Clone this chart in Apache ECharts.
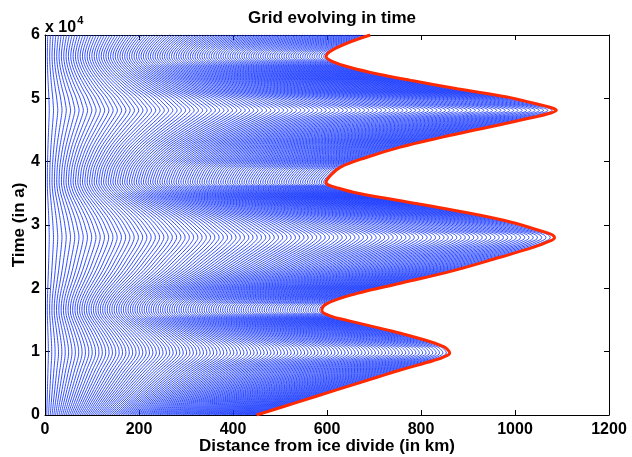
<!DOCTYPE html>
<html>
<head>
<meta charset="utf-8">
<script src="https://cdn.jsdelivr.net/npm/echarts@6/dist/echarts.min.js"></script>
<style>
html, body { margin: 0; padding: 0; background: #fff; }
#chart { width: 632px; height: 457px; }
</style>
</head>
<body>
<div id="chart"></div>
<script>
// time (a) and ice margin position (km)
var times = [0, 2000, 4000, 6000, 7100, 8600, 9200, 9800, 10300, 10800, 11800, 13400, 14900, 15700,
    16500, 17600, 19200, 20800, 22800, 24900, 26500, 27400, 28000, 28500, 29100, 30700, 32300, 33900,
    34900, 35800, 36750, 37700, 39100, 40700, 42300, 43800, 45400, 47000, 47600, 48100, 48600, 49100,
    50200, 51500, 52800, 53800, 54900, 55800, 56600, 58000, 60000];
var margin = [450, 536, 622, 708, 756, 827, 850, 861, 857, 848, 810, 730, 645, 605,
    589, 600, 664, 756, 869, 968, 1040, 1072, 1084, 1078, 1054, 978, 872, 750,
    674, 625, 598, 606, 628, 685, 756, 841, 940, 1040, 1072, 1088, 1074, 1047,
    983, 877, 780, 710, 648, 612, 598, 621, 692];
// grid nodes are fixed fractions of the margin position
var nIntervals = 120;
var xTicks = [0, 200, 400, 600, 800, 1000, 1200];
var yTicks = [0, 1, 2, 3, 4, 5, 6];

var font = '"Liberation Sans", Arial, Helvetica, sans-serif';
var chart = echarts.init(document.getElementById('chart'));

var series = [];
for (var i = 1; i <= nIntervals; i++) {
    var frac = i / nIntervals;
    series.push({
        type: 'line',
        smooth: 0.4,
        symbol: 'none',
        silent: true,
        lineStyle: { color: '#1a3aff', width: 0.9 },
        data: times.map(function(t, k) { return [margin[k] * frac, t]; })
    });
}
series.push({
    type: 'line',
    smooth: 0.4,
    symbol: 'none',
    z: 5,
    lineStyle: { color: '#ff2a00', width: 3 },
    data: times.map(function(t, k) { return [margin[k], t]; })
});

var axisCommon = {
    axisLine: { show: true, onZero: false, lineStyle: { color: '#000', width: 1 } },
    axisTick: { show: true, inside: true, length: 5, lineStyle: { color: '#000' } },
    splitLine: { show: false }
};

var option = {
    animation: false,
    backgroundColor: '#fff',
    title: {
        text: 'Grid evolving in time',
        left: 327, top: 5, textAlign: 'center',
        textStyle: { fontFamily: font, fontWeight: 'bold', fontSize: 17, color: '#000' }
    },
    grid: { left: 45, right: 23, top: 35, bottom: 42, containLabel: false, outerBoundsMode: 'none' },
    xAxis: [
        Object.assign({
            type: 'value', min: 0, max: 1200, interval: 200,
            name: 'Distance from ice divide (in km)', nameLocation: 'middle', nameGap: 23,
            nameMoveOverlap: false,
            nameTextStyle: { fontFamily: font, fontWeight: 'bold', fontSize: 17, color: '#000' },
            axisLabel: {
                margin: 7, fontFamily: font, fontWeight: 'bold', fontSize: 16, color: '#000',
                formatter: function(v) { return xTicks.indexOf(v) >= 0 ? String(v) : ''; }
            }
        }, axisCommon),
        Object.assign({
            type: 'value', position: 'top', min: 0, max: 1200, interval: 200,
            axisLabel: { show: false }
        }, axisCommon)
    ],
    yAxis: [
        Object.assign({
            type: 'value', min: 0, max: 60000, interval: 10000,
            name: 'Time (in a)', nameLocation: 'middle', nameGap: 17, nameRotate: 90,
            nameMoveOverlap: false,
            nameTextStyle: { fontFamily: font, fontWeight: 'bold', fontSize: 17, color: '#000' },
            axisLabel: {
                margin: 5, fontFamily: font, fontWeight: 'bold', fontSize: 16, color: '#000',
                formatter: function(v) { return String(yTicks[Math.round(v / 10000)]); }
            }
        }, axisCommon),
        Object.assign({
            type: 'value', position: 'right', min: 0, max: 60000, interval: 10000,
            axisLabel: { show: false }
        }, axisCommon)
    ],
    graphic: [{
        type: 'text', left: 45, top: 15,
        style: {
            text: '{b|x 10}{s|4}',
            rich: {
                b: { fontFamily: font, fontWeight: 'bold', fontSize: 16, fill: '#000', verticalAlign: 'bottom' },
                s: { fontFamily: font, fontWeight: 'bold', fontSize: 11, fill: '#000', verticalAlign: 'top', padding: [0, 0, 10, 1] }
            }
        }
    }],
    series: series
};
chart.setOption(option);
</script>
</body>
</html>
